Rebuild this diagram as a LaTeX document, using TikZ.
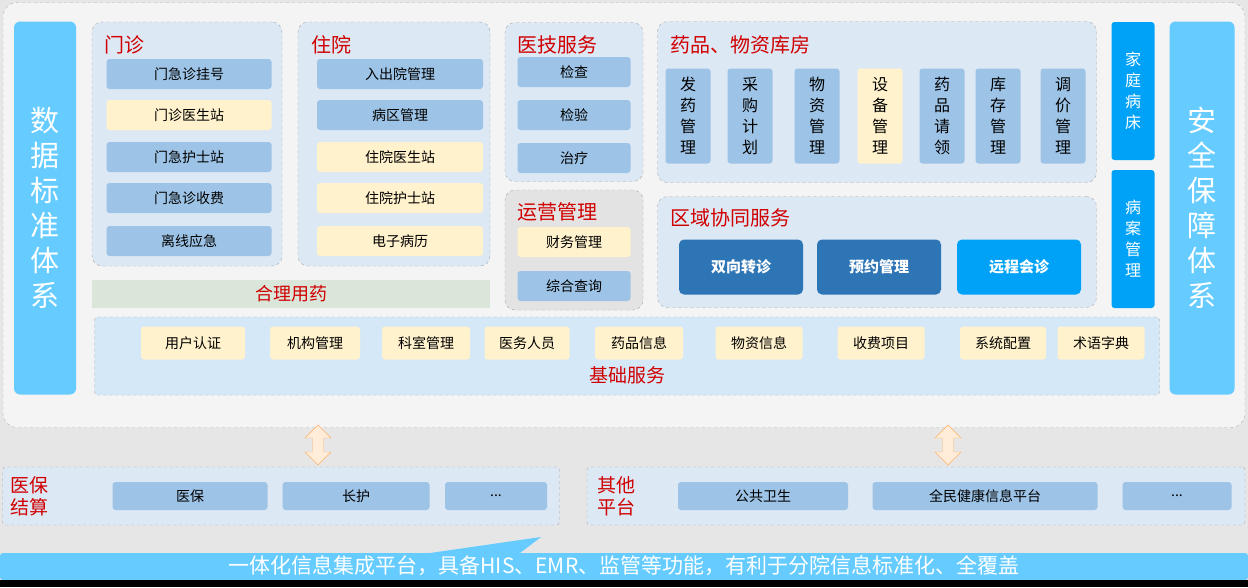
\documentclass[tikz,border=0pt]{standalone}
\usepackage{fontspec}
\setmainfont{Noto Sans CJK SC}
\usetikzlibrary{shapes.arrows, positioning}
\definecolor{bgray}{HTML}{E6E6E6}
\definecolor{panel}{HTML}{F4F4F4}
\definecolor{grp}{HTML}{DDE8F5}
\definecolor{basec}{HTML}{D5E8F8}
\definecolor{iblue}{HTML}{9DC3E6}
\definecolor{iyel}{HTML}{FFF2CC}
\definecolor{side}{HTML}{66CCFF}
\definecolor{dblue}{HTML}{2E75B6}
\definecolor{bblue}{HTML}{00A2F8}
\definecolor{titred}{HTML}{D00000}

\tikzset{
  grp/.style={draw=gray!70, dashed, fill=grp, rounded corners=10pt, inner sep=0},
  item/.style={fill=iblue, rounded corners=3pt, font=\fontsize{14}{16}\selectfont, inner sep=0},
  itemy/.style={item, fill=iyel},
  tit/.style={text=titred, font=\fontsize{20}{22}\selectfont, anchor=west, inner sep=0},
  vbox/.style={fill=bblue, rounded corners=3pt, text=white, align=center,
    font=\fontsize{16}{21}\selectfont, inner sep=0},
  sidebar/.style={fill=side, rounded corners=6pt, text=white, align=center,
    font=\fontsize{29}{35}\selectfont, inner sep=0, minimum width=62pt, minimum height=373pt},
  vitem/.style={item, align=center, minimum width=45pt, minimum height=95pt,
    font=\fontsize{16}{21}\selectfont},
  region/.style={rounded corners=5pt, text=white, minimum width=124pt, minimum height=55pt,
    font=\bfseries\fontsize{15}{18}\selectfont, inner sep=0},
  biarrow/.style={double arrow, draw=orange!60, fill=orange!15, rotate=90,
    minimum height=40pt, minimum width=26pt, double arrow head extend=3pt, inner sep=2pt},
}

\begin{document}
\begin{tikzpicture}[x=1pt, y=-1pt]
  \useasboundingbox (0,0) rectangle (1248,587);
  \fill[bgray] (0,0) rectangle (1248,587);
  \node[draw=gray!60, dashed, fill=panel, rounded corners=14pt, minimum width=1242pt, minimum height=425pt] (main) at (624,215) {};

  % side bars
  \node[sidebar] (std) at (45,208) {数\\据\\标\\准\\体\\系};
  \node[sidebar, minimum width=65pt] (safe) at (1202,208) {安\\全\\保\\障\\体\\系};

  % outpatient
  \node[grp, minimum width=190pt, minimum height=244pt] (opd) at (187,144) {};
  \node[tit] (opdt) at (104,45) {门诊};
  \node[item, minimum width=165pt, minimum height=30pt] (op1) at (189,74) {门急诊挂号};
  \node[itemy, minimum width=165pt, minimum height=30pt] (op2) at (189,115) {门诊医生站};
  \node[item, minimum width=165pt, minimum height=30pt] (op3) at (189,157) {门急护士站};
  \node[item, minimum width=165pt, minimum height=30pt] (op4) at (189,198) {门急诊收费};
  \node[item, minimum width=165pt, minimum height=30pt] (op5) at (189,241) {离线应急};

  % inpatient
  \node[grp, minimum width=192pt, minimum height=244pt] (ipd) at (394,144) {};
  \node[tit] (ipdt) at (311,45) {住院};
  \node[item, minimum width=166pt, minimum height=30pt] (ip1) at (400,74) {入出院管理};
  \node[item, minimum width=166pt, minimum height=30pt] (ip2) at (400,115) {病区管理};
  \node[itemy, minimum width=166pt, minimum height=30pt] (ip3) at (400,157) {住院医生站};
  \node[itemy, minimum width=166pt, minimum height=30pt] (ip4) at (400,198) {住院护士站};
  \node[itemy, minimum width=166pt, minimum height=30pt] (ip5) at (400,241) {电子病历};

  % medical technology
  \node[grp, minimum width=138pt, minimum height=159pt] (tech) at (574,102) {};
  \node[tit] (techt) at (517,45) {医技服务};
  \node[item, minimum width=113pt, minimum height=30pt] (te1) at (574,72) {检查};
  \node[item, minimum width=113pt, minimum height=30pt] (te2) at (574,115) {检验};
  \node[item, minimum width=113pt, minimum height=30pt] (te3) at (574,158) {治疗};

  % operations
  \node[grp, fill=gray!22, minimum width=138pt, minimum height=120pt] (ops) at (574,250) {};
  \node[tit] (opst) at (517,212) {运营管理};
  \node[itemy, minimum width=113pt, minimum height=30pt] (os1) at (574,242) {财务管理};
  \node[item, minimum width=113pt, minimum height=30pt] (os2) at (574,286) {综合查询};

  % rational drug use
  \node[fill=green!20!gray!25, minimum width=398pt, minimum height=28pt, inner sep=0,
    text=titred, font=\fontsize{18}{20}\selectfont] (drug) at (291,294) {合理用药};

  % pharmacy and materials
  \node[grp, minimum width=439pt, minimum height=161pt] (store) at (877,102) {};
  \node[tit] (storet) at (670,45) {药品、物资库房};
  \node[vitem] (st1) at (688,116) {发\\药\\管\\理};
  \node[vitem] (st2) at (750,116) {采\\购\\计\\划};
  \node[vitem] (st3) at (817,116) {物\\资\\管\\理};
  \node[vitem, fill=iyel] (st4) at (880,116) {设\\备\\管\\理};
  \node[vitem] (st5) at (942,116) {药\\品\\请\\领};
  \node[vitem] (st6) at (998,116) {库\\存\\管\\理};
  \node[vitem] (st7) at (1063,116) {调\\价\\管\\理};

  % regional cooperation
  \node[grp, minimum width=439pt, minimum height=111pt] (reg) at (877,252) {};
  \node[tit] (regt) at (670,218) {区域协同服务};
  \node[region, fill=dblue] (rg1) at (741,267) {双向转诊};
  \node[region, fill=dblue] (rg2) at (879,267) {预约管理};
  \node[region, fill=bblue] (rg3) at (1019,267) {远程会诊};

  % family bed, records
  \node[vbox, minimum width=43pt, minimum height=138pt] (fam) at (1133,91) {家\\庭\\病\\床};
  \node[vbox, minimum width=43pt, minimum height=138pt] (rec) at (1133,239) {病\\案\\管\\理};

  % base services
  \node[grp, fill=basec, rounded corners=3pt, minimum width=1065pt, minimum height=78pt] (base) at (627,356) {};
  \node[text=titred, font=\fontsize{19}{21}\selectfont, inner sep=0] (baset) at (627,375) {基础服务};
  \node[itemy, minimum width=104pt, minimum height=33pt] (b1) at (193,343) {用户认证};
  \node[itemy, minimum width=90pt, minimum height=33pt] (b2) at (315,343) {机构管理};
  \node[itemy, minimum width=88pt, minimum height=33pt] (b3) at (426,343) {科室管理};
  \node[itemy, minimum width=85pt, minimum height=33pt] (b4) at (527,343) {医务人员};
  \node[itemy, minimum width=88pt, minimum height=33pt] (b5) at (639,343) {药品信息};
  \node[itemy, minimum width=87pt, minimum height=33pt] (b6) at (759,343) {物资信息};
  \node[itemy, minimum width=87pt, minimum height=33pt] (b7) at (881,343) {收费项目};
  \node[itemy, minimum width=86pt, minimum height=33pt] (b8) at (1003,343) {系统配置};
  \node[itemy, minimum width=87pt, minimum height=33pt] (b9) at (1101,343) {术语字典};

  % links to outside
  \node[biarrow] (arl) at (318,445) {};
  \node[biarrow] (arr) at (948,445) {};

  % insurance
  \node[grp, rounded corners=3pt, minimum width=557pt, minimum height=58pt] (ins) at (281,496) {};
  \node[tit, align=left, font=\fontsize{19}{22}\selectfont] (inst) at (10,496) {医保\\结算};
  \node[item, minimum width=155pt, minimum height=28pt] (in1) at (190,496) {医保};
  \node[item, minimum width=147pt, minimum height=28pt] (in2) at (356,496) {长护};
  \node[item, minimum width=102pt, minimum height=28pt] (in3) at (496,496) {...};

  % other platforms
  \node[grp, rounded corners=3pt, minimum width=658pt, minimum height=58pt] (oth) at (916,496) {};
  \node[tit, align=left, font=\fontsize{19}{22}\selectfont] (otht) at (597,496) {其他\\平台};
  \node[item, minimum width=170pt, minimum height=28pt] (ot1) at (763,496) {公共卫生};
  \node[item, minimum width=225pt, minimum height=28pt] (ot2) at (985,496) {全民健康信息平台};
  \node[item, minimum width=109pt, minimum height=28pt] (ot3) at (1177,496) {...};

  % integration bar
  \fill[side] (0,553) -- (430,553) -- (541,537) -- (520,553) -- (1240,553)
    [rounded corners=3pt] -- (1248,553) -- (1248,580) -- (0,580) -- cycle;
  \node[text=white, font=\fontsize{21}{23}\selectfont, inner sep=0] (plat) at (624,566)
    {一体化信息集成平台，具备HIS、EMR、监管等功能，有利于分院信息标准化、全覆盖};
  \fill[black] (0,580) rectangle (1248,587);
\end{tikzpicture}
\end{document}
